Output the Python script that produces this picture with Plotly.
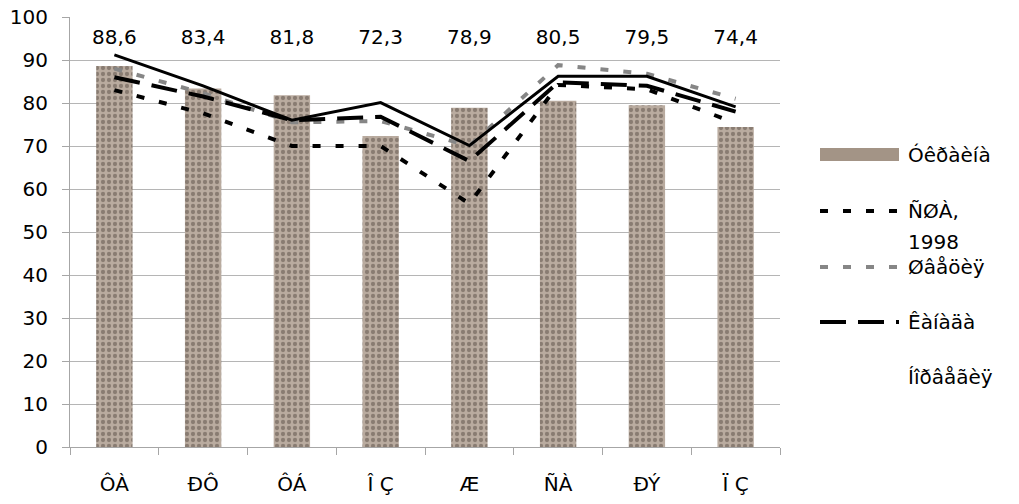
import plotly.graph_objects as go

# Category labels and series values
categories = ["ÔÀ", "ÐÔ", "ÔÁ", "Î Ç", "Æ", "ÑÀ", "ÐÝ", "Ï Ç"]
ukraine = [88.6, 83.4, 81.8, 72.3, 78.9, 80.5, 79.5, 74.4]
usa_1998 = [83.0, 77.6, 70.0, 70.0, 56.6, 84.2, 83.2, 75.3]
sweden = [88.0, 82.3, 75.5, 75.8, 70.0, 88.8, 86.8, 81.0]
canada = [86.0, 81.5, 76.0, 76.8, 66.5, 84.8, 84.0, 78.0]
norway = [91.2, 84.0, 76.0, 80.1, 70.1, 86.2, 86.2, 79.1]
y_ticks = [0, 10, 20, 30, 40, 50, 60, 70, 80, 90, 100]

bar_name = "Óêðàèíà"
line_names = [["ÑØÀ,", "1998"], ["Øâåöèÿ"], ["Êàíàäà"], ["Íîðâåãèÿ"]]
line_values = [usa_1998, sweden, canada, norway]

FONT = "DejaVu Sans"
FS = 20
W, H = 1019, 504
L, R, T, B = 70, 239, 17, 57
PW, PH = W - L - R, H - T - B

line_styles = [
    dict(color="black", width=4, dash="8px,15px"),
    dict(color="#868686", width=4, dash="8px,15px"),
    dict(color="black", width=4, dash="26px,12px"),
    dict(color="black", width=3, dash="solid"),
]
bar_fill = "#a39486"

fig = go.Figure()

fig.add_trace(go.Bar(
    x=categories, y=ukraine, name=bar_name,
    marker=dict(
        color=bar_fill, line=dict(width=0),
        pattern=dict(shape=".", fgcolor="#5a4d45", bgcolor="#b9ab9f",
                     size=6, solidity=0.4),
    ),
    showlegend=False,
))

for names, vals, st in zip(line_names, line_values, line_styles):
    fig.add_trace(go.Scatter(
        x=categories, y=vals, mode="lines", name=" ".join(names),
        line=dict(color=st["color"], width=st["width"], dash=st["dash"]),
        showlegend=False,
    ))

# value labels for the bars, set in a row above the lines
label_level = 94.8
fig.add_trace(go.Scatter(
    x=categories, y=[label_level] * len(ukraine), mode="text",
    text=[f"{v:.1f}".replace(".", ",") for v in ukraine],
    textfont=dict(family=FONT, size=FS, color="black"),
    showlegend=False, hoverinfo="skip", cliponaxis=False,
))


def px_x(px):
    return (px - L) / PW


def px_y(py):
    return (T + PH - py) / PH


# hand-built legend at the right
rows = [155, 211, 267, 322, 377]
shapes = []
annotations = []
sx0, sx1, tx = 820, 899, 906

shapes.append(dict(type="rect", xref="paper", yref="paper",
                   x0=px_x(sx0), x1=px_x(sx1), y0=px_y(161), y1=px_y(148),
                   fillcolor=bar_fill, line=dict(width=0)))
annotations.append(dict(xref="paper", yref="paper", x=px_x(tx), y=px_y(rows[0]),
                        text=bar_name, showarrow=False, xanchor="left",
                        yanchor="middle"))

for i, (names, st) in enumerate(zip(line_names, line_styles)):
    yy = rows[i + 1]
    if i < 3:
        shapes.append(dict(type="line", xref="paper", yref="paper",
                           x0=px_x(sx0), x1=px_x(sx1), y0=px_y(yy), y1=px_y(yy),
                           line=dict(color=st["color"], width=st["width"],
                                     dash=st["dash"])))
    for j, nm in enumerate(names):
        annotations.append(dict(xref="paper", yref="paper", x=px_x(tx),
                                y=px_y(yy + 31 * j), text=nm, showarrow=False,
                                xanchor="left", yanchor="middle"))

fig.update_layout(
    width=W, height=H,
    margin=dict(l=L, r=R, t=T, b=B, autoexpand=False),
    paper_bgcolor="white", plot_bgcolor="white",
    font=dict(family=FONT, size=FS, color="black"),
    bargap=0.59,
    shapes=shapes, annotations=annotations,
    xaxis=dict(
        type="category", showgrid=False, showline=True, linecolor="#a6a6a6",
        linewidth=1, ticks="outside", tickson="boundaries", ticklen=7,
        tickcolor="#a6a6a6", ticklabelstandoff=19, automargin=False,
        tickfont=dict(family=FONT, size=FS, color="black"),
    ),
    yaxis=dict(
        range=[0, 100], tickvals=y_ticks, showgrid=True, gridcolor="#b5b5b5",
        gridwidth=1, showline=True, linecolor="#a6a6a6", linewidth=1,
        ticks="outside", ticklen=7, tickcolor="#a6a6a6", ticklabelstandoff=10,
        zeroline=False, automargin=False,
        tickfont=dict(family=FONT, size=FS, color="black"),
    ),
)

fig.write_html("out.html")
